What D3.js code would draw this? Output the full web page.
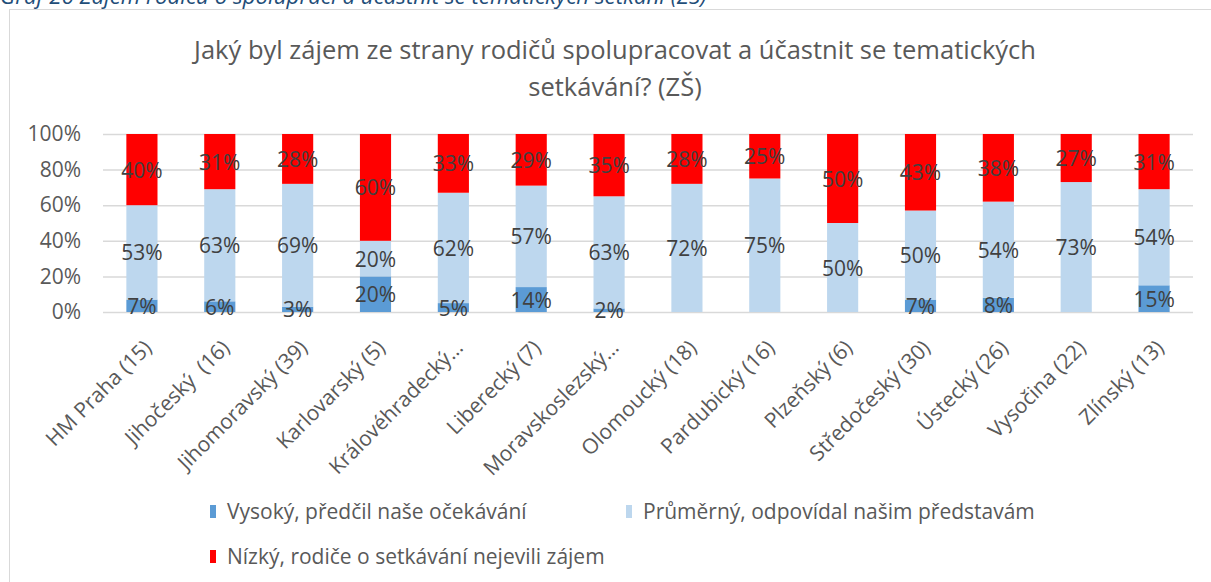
<!DOCTYPE html>
<html>
<head>
<meta charset="utf-8">
<script src="https://cdn.jsdelivr.net/npm/d3@7"></script>
<style>
  html, body { margin: 0; padding: 0; background: #fff; }
  svg { display: block; font-family: "Open Sans", sans-serif; }
</style>
</head>
<body>
<svg id="chart" width="1211" height="582"></svg>
<script>
// data (percent)
const categories = ['HM Praha (15)', 'Jihočeský  (16)', 'Jihomoravský (39)', 'Karlovarský (5)', 'Královéhradecký…', 'Liberecký (7)', 'Moravskoslezský…', 'Olomoucký (18)', 'Pardubický (16)', 'Plzeňský (6)', 'Středočeský (30)', 'Ústecký (26)', 'Vysočina (22)', 'Zlínský (13)'];
const vysoky = [7, 6, 3, 20, 5, 14, 2, 0, 0, 0, 7, 8, 0, 15];
const prumerny = [53, 63, 69, 20, 62, 57, 63, 72, 75, 50, 50, 54, 73, 54];
const nizky = [40, 31, 28, 60, 33, 29, 35, 28, 25, 50, 43, 38, 27, 31];
const seriesNames = ['Vysoký, předčil naše očekávání', 'Průměrný, odpovídal našim představám', 'Nízký, rodiče o setkávání nejevili zájem'];
const seriesColors = ['#5b9bd5', '#bdd7ee', '#ff0000'];
const yTicks = [0, 20, 40, 60, 80, 100];
const caption = 'Graf 26 Zájem rodičů o spolupráci a účastnit se tematických setkání (ZŠ)';
const titleLines = ['Jaký byl zájem ze strany rodičů spolupracovat a účastnit se tematických', 'setkávání? (ZŠ)'];

const svg = d3.select('#chart');
const keys = ['v', 'p', 'n'];
const rows = categories.map((name, i) => ({ name, v: vysoky[i], p: prumerny[i], n: nizky[i] }));
const stacked = d3.stack().keys(keys)(rows);

const x = d3.scaleBand().domain(categories).range([103, 1193]).paddingInner(0.6).paddingOuter(0.3);
const y = d3.scaleLinear().domain([0, 100]).range([312, 134]);

// caption above the chart frame, cut at the top edge
svg.append('text').attr('x', 0).attr('y', 4)
    .attr('fill', '#1f4e79').attr('font-style', 'italic').attr('font-size', 22.3)
    .text(caption);

svg.append('rect').attr('x', 9.5).attr('y', 9.5).attr('width', 1300).attr('height', 700)
    .attr('fill', 'none').attr('stroke', '#d9d9d9');

const title = svg.append('text').attr('text-anchor', 'middle').attr('fill', '#595959').attr('font-size', 25.5);
titleLines.forEach((line, i) => title.append('tspan').attr('x', 615).attr('y', 59 + i * 37).text(line));

// gridlines + y axis labels
const yAxis = d3.axisLeft(y).tickValues(yTicks).tickFormat(d => d + '%').tickSize(-1090).tickPadding(22);
const ya = svg.append('g').attr('transform', 'translate(103,0)').call(yAxis);
ya.select('.domain').remove();
ya.selectAll('.tick line').attr('stroke', '#d9d9d9').attr('stroke-width', 1.5);
ya.selectAll('.tick text').attr('fill', '#595959').attr('font-size', 21).attr('font-family', 'Open Sans');

// bars
const layer = svg.append('g').selectAll('g').data(stacked).join('g').attr('fill', (d, i) => seriesColors[i]);
layer.selectAll('rect').data(d => d).join('rect')
    .attr('x', d => x(d.data.name))
    .attr('width', x.bandwidth())
    .attr('y', d => y(d[1]))
    .attr('height', d => y(d[0]) - y(d[1]));

// data labels
const labels = svg.append('g').attr('text-anchor', 'middle').attr('fill', '#404040').attr('font-size', 21);
stacked.forEach(s => {
    s.forEach(d => {
        const val = d[1] - d[0];
        if (!val) return;
        labels.append('text')
            .attr('x', x(d.data.name) + x.bandwidth() / 2)
            .attr('y', (y(d[0]) + y(d[1])) / 2 + 8)
            .text(val + '%');
    });
});

// x axis labels, rotated
const xa = svg.append('g').attr('transform', 'translate(0,312)').call(d3.axisBottom(x).tickSize(0).tickPadding(0));
xa.select('.domain').remove();
xa.selectAll('.tick text')
    .attr('fill', '#595959').attr('font-size', 21).attr('font-family', 'Open Sans')
    .attr('text-anchor', 'end').attr('dy', 0)
    .attr('transform', 'translate(11,37) rotate(-45)')
    .style('white-space', 'pre');

// legend
const legendPos = [[210, 512], [626, 512], [210, 557]];
const legend = svg.append('g').selectAll('g').data(seriesNames).join('g')
    .attr('transform', (d, i) => `translate(${legendPos[i][0]},${legendPos[i][1]})`);
legend.append('rect').attr('x', 0).attr('y', -7).attr('width', 6).attr('height', 13).attr('fill', (d, i) => seriesColors[i]);
legend.append('text').attr('x', 17).attr('y', 7).attr('fill', '#595959').attr('font-size', 21).text(d => d);
</script>
</body>
</html>
